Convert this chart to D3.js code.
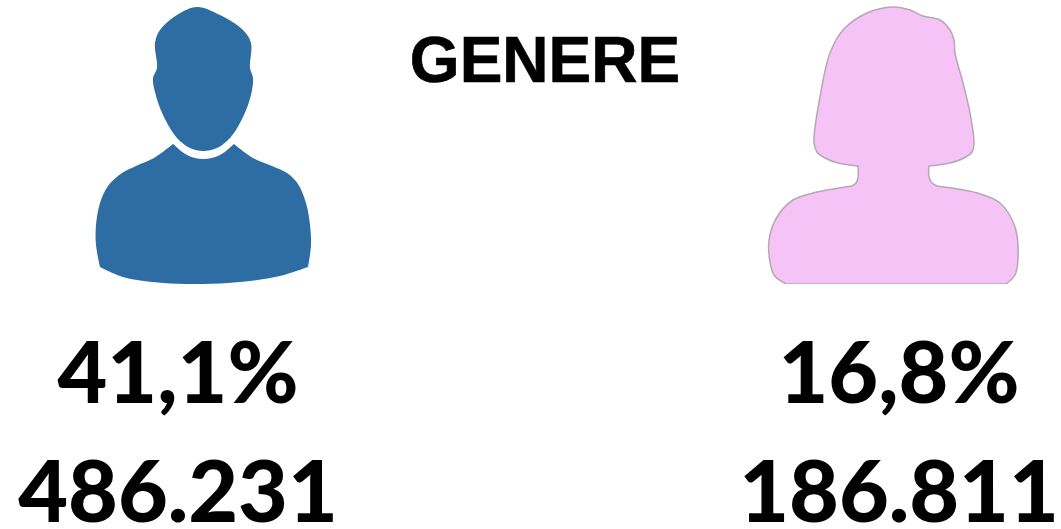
<!DOCTYPE html>
<html lang="it">
<head>
  <meta charset="utf-8">
  <script src="https://d3js.org/d3.v7.min.js"></script>
  <style>
    html, body { margin: 0; padding: 0; background: #fff; }
    svg { display: block; }
  </style>
</head>
<body>

<svg width="1061" height="529"></svg>

<script>
var title = "GENERE";
var genders = ["M", "F"];
var percents = ["41,1%", "16,8%"];
var counts = ["486.231", "186.811"];

// icon outlines, split where the silhouette has a hard corner
var manHead = [[197,7],[220,15],[243,30],[251,43],[250,68],[253,78],[251,95],[243,117],[230,138],[217,148],[203,151],[190,148],[177,138],[163,115],[155,92],[153,78],[157,68],[155,43],[160,30],[177,15]];
var manShoulderR = [[234,144],[253,158],[272,166],[287,173],[298,184],[306,203],[310,225],[311,245],[308,267]];
var manBottom = [[308,267],[280,276],[240,282],[203,284],[163,283],[123,277],[100,267]];
var manShoulderL = [[100,267],[96,245],[96,225],[100,203],[108,186],[122,173],[136,166],[154,158],[173,144]];
var manNeck = [[173,144],[187,155],[203,159],[220,155],[234,144]];

var womanTop = [[929,166],[950,163],[964,158],[972,152],[974,143],[970,113],[963,83],[955,53],[954,40],[950,30],[940,20],[923,16],[910,10],[893,7],[867,13],[843,30],[830,53],[820,97],[814,143],[817,152],[825,158],[838,163],[858,166]];
var womanNeckL = [[858,166],[858,178],[856,183],[852,186]];
var womanShoulderL = [[852,186],[813,193],[793,200],[777,217],[769,240],[770,262],[774,275],[786,284]];
var womanShoulderR = [[1006,284],[1015,275],[1018,258],[1015,227],[1000,203],[977,193],[937,186]];
var womanNeckR = [[937,186],[932,183],[929,177],[929,166]];

var svg = d3.select("svg");

var x = d3.scalePoint().domain(genders).range([178, 899]);
var line = d3.line().curve(d3.curveCatmullRom.alpha(0.5));
var closedLine = d3.line().curve(d3.curveCatmullRomClosed.alpha(0.5));

function join(parts) {
  return parts.map(function(p, i) {
    var s = line(p);
    return i ? s.replace("M", "L") : s;
  }).join("") + "Z";
}

svg.append("path")
    .attr("d", closedLine(manHead))
    .attr("fill", "#2e6da4");
svg.append("path")
    .attr("d", join([manShoulderR, manBottom, manShoulderL, manNeck]))
    .attr("fill", "#2e6da4");

svg.append("path")
    .attr("d", join([womanTop, womanNeckL, womanShoulderL, womanShoulderR, womanNeckR]))
    .attr("fill", "#f5c3f5")
    .attr("stroke", "#b5a8b5")
    .attr("stroke-width", 1.5);
// picture is cut straight along the bottom of the icons
svg.append("rect")
    .attr("x", 760).attr("y", 284)
    .attr("width", 270).attr("height", 4)
    .attr("fill", "#fff");

svg.append("text")
    .attr("x", 545)
    .attr("y", 82)
    .attr("text-anchor", "middle")
    .attr("stroke", "#000")
    .attr("stroke-width", 0.7)
    .style("font-family", "'Liberation Sans', Arial, sans-serif")
    .style("font-weight", 700)
    .style("font-size", "64px")
    .text(title);

svg.selectAll(".pct")
    .data(genders)
    .enter().append("text")
    .attr("class", "pct")
    .attr("x", function(d) { return x(d); })
    .attr("y", 403)
    .attr("text-anchor", "middle")
    .style("font-family", "Lato, sans-serif")
    .style("font-weight", 900)
    .style("font-size", "86px")
    .text(function(d, i) { return percents[i]; });

svg.selectAll(".count")
    .data(genders)
    .enter().append("text")
    .attr("class", "count")
    .attr("x", function(d) { return x(d); })
    .attr("y", 522)
    .attr("text-anchor", "middle")
    .style("font-family", "Lato, sans-serif")
    .style("font-weight", 900)
    .style("font-size", "86px")
    .text(function(d, i) { return counts[i]; });
</script>
</body>
</html>
